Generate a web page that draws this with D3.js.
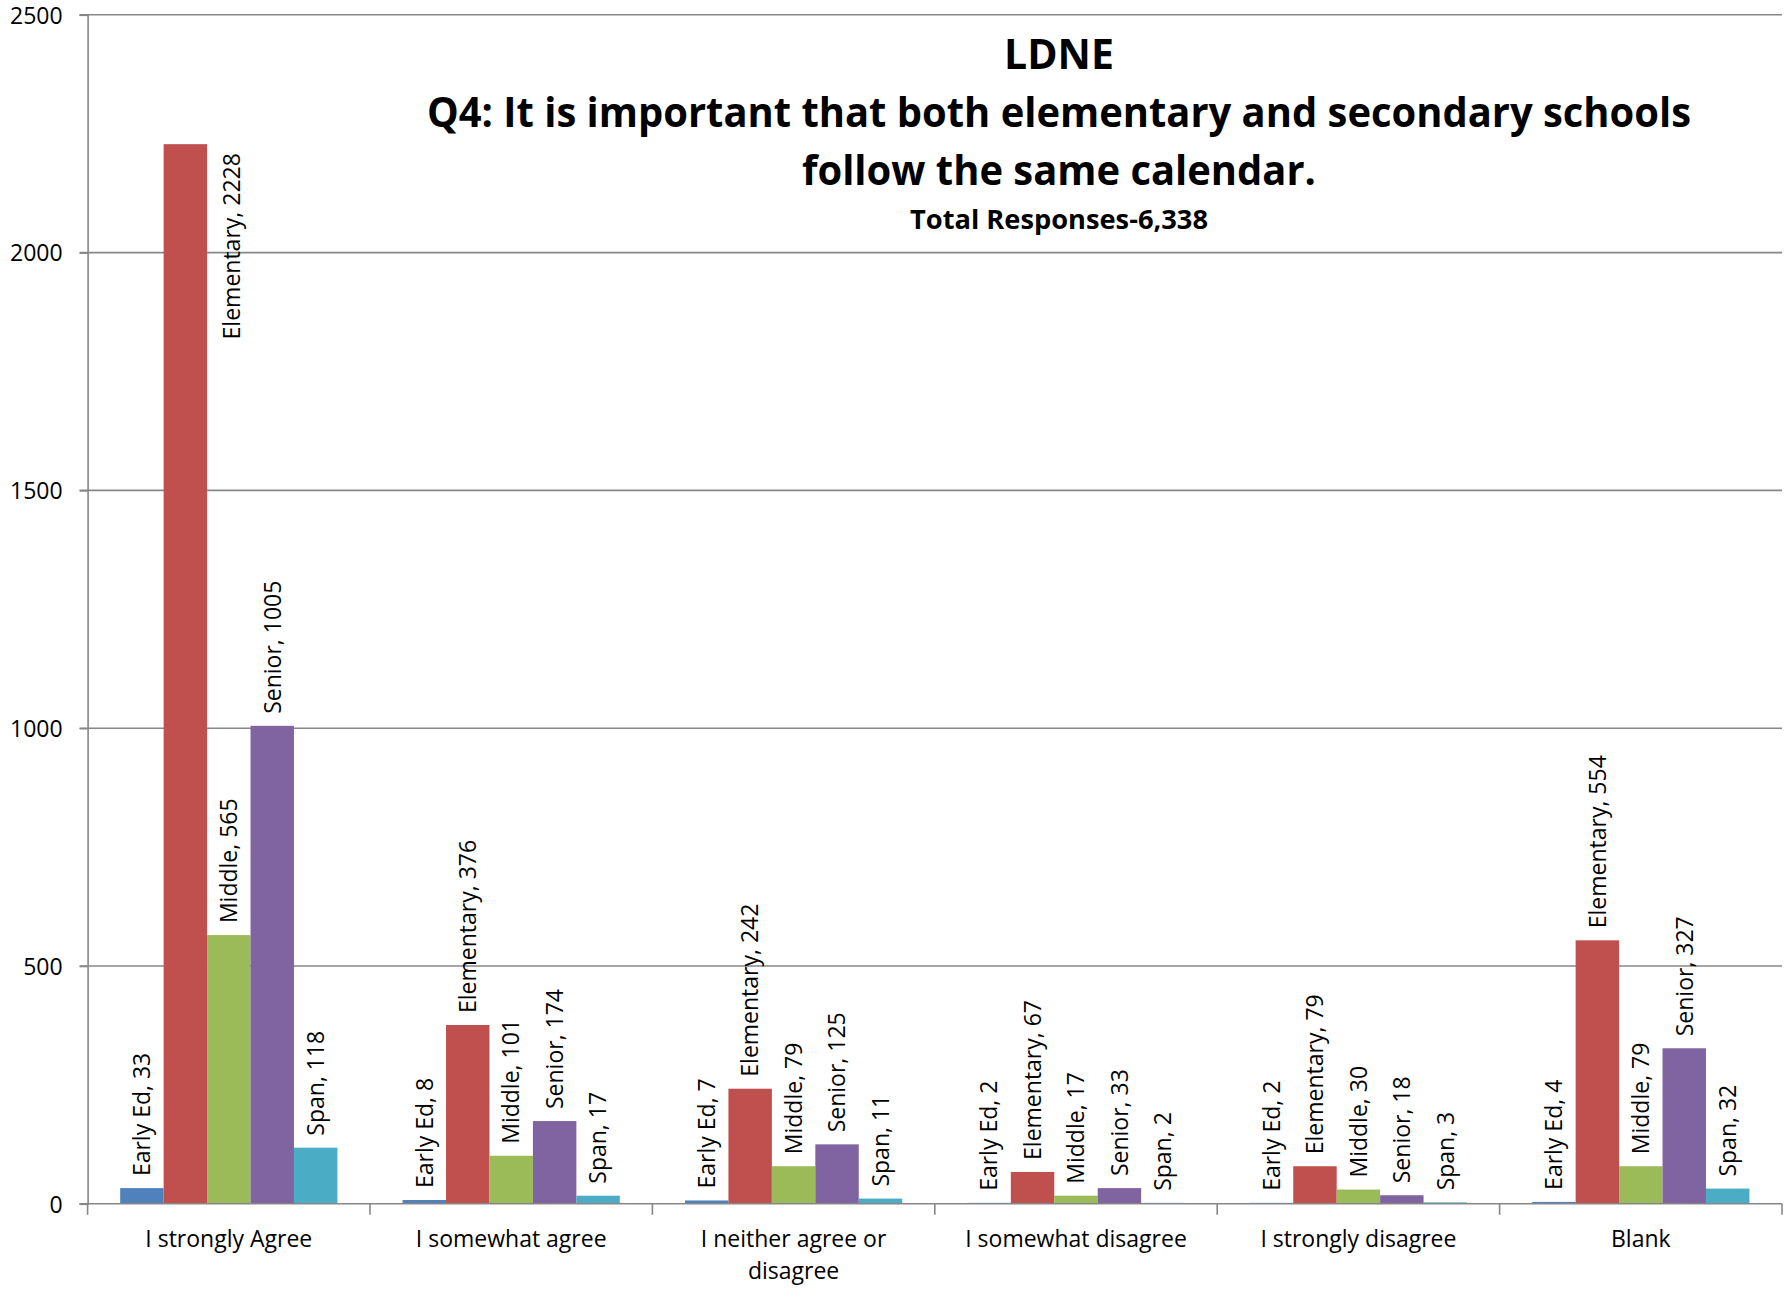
<!DOCTYPE html>
<html>
<head>
<meta charset="utf-8">
<script src="https://cdn.jsdelivr.net/npm/d3@7"></script>
<style>
  html, body { margin: 0; padding: 0; background: #ffffff; }
  svg { display: block; }
</style>
</head>
<body>
<div id="chart"></div>
<script>
// ---- data ----
const categories = ["I strongly Agree", "I somewhat agree", "I neither agree or disagree", "I somewhat disagree", "I strongly disagree", "Blank"];
const seriesNames = ["Early Ed", "Elementary", "Middle", "Senior", "Span"];
const earlyEd   = [33, 8, 7, 2, 2, 4];
const elementary = [2228, 376, 242, 67, 79, 554];
const middle    = [565, 101, 79, 17, 30, 79];
const senior    = [1005, 174, 125, 33, 18, 327];
const span      = [118, 17, 11, 2, 3, 32];
const yTicks = [0, 500, 1000, 1500, 2000, 2500];
const titleLines = ["LDNE", "Q4: It is important that both elementary and secondary schools", "follow the same calendar."];
const subtitle = "Total Responses-6,338";
const colors = ["#4F81BD", "#C0504D", "#9BBB59", "#8064A2", "#4BACC6"];

const seriesValues = [earlyEd, elementary, middle, senior, span];

// ---- layout ----
const W = 1784, H = 1302;
const pLeft = 87.6, pRight = 1782, pTop = 14.8, pBottom = 1203.8;

const svg = d3.select("#chart").append("svg").attr("width", W).attr("height", H);

const x0 = d3.scaleBand().domain(categories).range([pLeft, pRight]).padding(0);
const bw = x0.bandwidth();
const gapFrac = 0.75 / 6.5;
const x1 = d3.scaleBand().domain(seriesNames).range([bw * gapFrac, bw * (1 - gapFrac)]).padding(0);
const y = d3.scaleLinear().domain([0, 2500]).range([pBottom, pTop]);

const gridColor = "#878787";

// gridlines
svg.append("g").selectAll("line").data(yTicks.filter(d => d > 0)).join("line")
  .attr("x1", pLeft - 8).attr("x2", pRight)
  .attr("y1", d => y(d)).attr("y2", d => y(d))
  .attr("stroke", gridColor).attr("stroke-width", 1.6);

// y axis
const yAxis = svg.append("g").attr("transform", `translate(${pLeft},0)`)
  .call(d3.axisLeft(y).tickValues(yTicks).tickSize(8).tickPadding(17).tickFormat(d3.format("d")));
yAxis.select(".domain").attr("stroke", gridColor).attr("stroke-width", 1.6);
yAxis.selectAll(".tick line").attr("stroke", gridColor).attr("stroke-width", 1.6);
yAxis.selectAll(".tick text").attr("font-family", "'Open Sans', sans-serif").attr("font-size", 23).attr("fill", "#000").attr("dy", "0.36em");

// bars
const table = categories.map((c, i) => ({ cat: c, vals: seriesNames.map((s, j) => ({ s, v: seriesValues[j][i], j })) }));

const groups = svg.append("g").selectAll("g").data(table).join("g")
  .attr("transform", d => `translate(${x0(d.cat)},0)`);

groups.selectAll("rect").data(d => d.vals).join("rect")
  .attr("x", d => x1(d.s))
  .attr("width", x1.bandwidth())
  .attr("y", d => y(d.v))
  .attr("height", d => y(0) - y(d.v))
  .attr("fill", d => colors[d.j]);

// x axis baseline & ticks
svg.append("line").attr("x1", pLeft - 8).attr("x2", pRight).attr("y1", y(0)).attr("y2", y(0))
  .attr("stroke", gridColor).attr("stroke-width", 1.6);
const boundaries = categories.map(c => x0(c)).concat([pRight]);
svg.append("g").selectAll("line").data(boundaries).join("line")
  .attr("x1", d => d).attr("x2", d => d).attr("y1", y(0)).attr("y2", y(0) + 11)
  .attr("stroke", gridColor).attr("stroke-width", 1.6);

// category labels (wrapped)
const catG = svg.append("g").attr("font-family", "'Open Sans', sans-serif").attr("font-size", 23).attr("fill", "#000").attr("text-anchor", "middle");
categories.forEach(c => {
  const t = catG.append("text").attr("x", x0(c) + bw / 2).attr("y", 1247);
  const words = c.split(" ");
  let line = [];
  let ts = t.append("tspan").attr("x", x0(c) + bw / 2).attr("dy", 0);
  words.forEach(w => {
    line.push(w);
    ts.text(line.join(" "));
    if (ts.node().getComputedTextLength() > 245 && line.length > 1) {
      line.pop();
      ts.text(line.join(" "));
      line = [w];
      ts = t.append("tspan").attr("x", x0(c) + bw / 2).attr("dy", 32).text(w);
    }
  });
});

// data labels (rotated)
const labelG = svg.append("g").attr("font-family", "'Open Sans', sans-serif").attr("font-size", 23).attr("fill", "#000");
table.forEach(g => {
  g.vals.forEach(d => {
    const cx = x0(g.cat) + x1(d.s) + x1.bandwidth() / 2;
    const txt = `${d.s}, ${d.v}`;
    const t = labelG.append("text").text(txt).attr("dy", "0.36em");
    const len = t.node().getComputedTextLength();
    const barTop = y(d.v);
    if (barTop - 12 - len < pTop) {
      t.attr("text-anchor", "end")
        .attr("transform", `translate(${cx + x1.bandwidth() + 3},${barTop + 9}) rotate(-90)`);
    } else {
      t.attr("text-anchor", "start")
        .attr("transform", `translate(${cx},${barTop - 12}) rotate(-90)`);
    }
  });
});

// titles
const tcx = 1059;
const tg = svg.append("g").attr("font-family", "'Open Sans', sans-serif").attr("font-weight", "bold").attr("fill", "#000").attr("text-anchor", "middle");
tg.append("text").attr("x", tcx).attr("y", 69).attr("font-size", 41).text(titleLines[0]);
tg.append("text").attr("x", tcx).attr("y", 127).attr("font-size", 41).attr("textLength", 1264).attr("lengthAdjust", "spacingAndGlyphs").text(titleLines[1]);
tg.append("text").attr("x", tcx).attr("y", 185).attr("font-size", 41).attr("textLength", 514).attr("lengthAdjust", "spacingAndGlyphs").text(titleLines[2]);
tg.append("text").attr("x", tcx).attr("y", 229).attr("font-size", 27).attr("textLength", 298).attr("lengthAdjust", "spacingAndGlyphs").text(subtitle);
</script>
</body>
</html>
